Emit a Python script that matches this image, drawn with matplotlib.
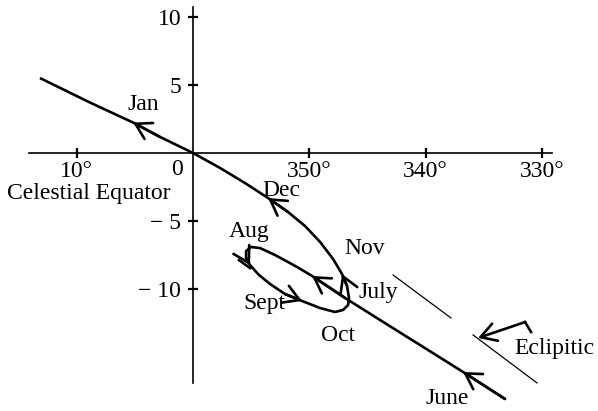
import matplotlib
matplotlib.use("Agg")
import matplotlib.pyplot as plt

plt.rcParams['font.family'] = ['Liberation Serif', 'DejaVu Serif']

# apparent path of the planet, right ascension offset from 0h (deg, east positive) and declination (deg)
path_ra = [-26.83, -23.22, -19.52, -16.08, -13.07, -10.23, -8.94, -7.05, -5.76, -4.99,
           -4.56, -4.56, -4.90, -5.67, -6.62, -7.91, -9.37, -10.92, -12.21, -12.90,
           -13.33, -13.41, -13.24, -12.81, -12.04, -10.92, -9.63, -8.17, -6.45, -4.47,
           -2.32, 0.0, 2.84, 5.16, 8.86, 13.16]
path_dec = [-18.09, -16.10, -14.12, -12.28, -10.66, -9.04, -8.38, -7.50, -6.99, -6.91,
            -7.21, -7.72, -8.24, -8.97, -9.63, -10.37, -10.88, -11.40, -11.69, -11.54,
            -11.18, -10.66, -9.78, -8.90, -7.79, -6.54, -5.37, -4.34, -3.31, -2.21,
            -1.10, 0.0, 1.18, 2.24, 3.71, 5.51]
# short overshoot at the western end of the loop
tail_ra = [-3.95, -4.90]
tail_dec = [-7.87, -8.46]

# indices on the path where direction arrows sit
arrow_idx = [1, 5, 12, 16, 23, 28, 33]

months = ['Jan', 'Dec', 'Nov', 'July', 'Aug', 'Sept', 'Oct', 'June']
month_ra = [4.30, -7.57, -14.79, -15.91, -4.82, -6.10, -12.47, -21.84]
month_dec = [3.55, -2.75, -7.05, -10.25, -5.80, -11.10, -13.40, -18.05]

# ecliptic, drawn as two thin segments either side of the label pointer
eclip1_ra = [-17.20, -22.18]
eclip1_dec = [-8.97, -12.13]
eclip2_ra = [-24.08, -29.58]
eclip2_dec = [-13.38, -16.91]
pointer_ra = [-29.06, -28.55, -24.51]
pointer_dec = [-13.16, -12.43, -13.60]

xticks = [10, -10, -20, -30]
xticklabels = ['10°', '350°', '340°', '330°']
yticks = [10, 5, -5, -10]
yticklabels = ['10', '5', '\u2212 5', '\u2212 10']

head = '->,head_length=1.1,head_width=0.65'

fig = plt.figure(figsize=(5.98, 4.11), dpi=100)
ax = fig.add_axes([0, 0, 1, 1])
ax.set_xlim(16.6, -34.82)
ax.set_ylim(-18.97, 11.25)

for s in ['top', 'right']:
    ax.spines[s].set_visible(False)
ax.spines['left'].set_position(('data', 0))
ax.spines['bottom'].set_position(('data', 0))
ax.spines['left'].set_bounds(-16.9, 10.7)
ax.spines['bottom'].set_bounds(-30.9, 14.1)
for s in ['left', 'bottom']:
    ax.spines[s].set_linewidth(1.2)

ax.set_xticks(xticks, xticklabels)
ax.set_yticks(yticks, yticklabels)
ax.tick_params(axis='both', direction='inout', length=7, width=1.6, labelsize=17)
ax.tick_params(axis='x', pad=2.5)
ax.tick_params(axis='y', pad=5)
ax.patch.set_visible(False)

ax.plot(path_ra, path_dec, color='black', lw=1.9, solid_capstyle='butt',
        solid_joinstyle='round')
ax.plot(tail_ra, tail_dec, color='black', lw=1.9)

for i in arrow_idx:
    ax.annotate('', xy=(path_ra[i], path_dec[i]), xytext=(path_ra[i - 1], path_dec[i - 1]),
                arrowprops=dict(arrowstyle=head, color='black', lw=1.9,
                                shrinkA=0, shrinkB=0, mutation_scale=10))

for name, x, y in zip(months, month_ra, month_dec):
    ax.text(x, y, name, fontsize=17, ha='center', va='center')

ax.text(1.38, -1.2, '0', fontsize=17, ha='center', va='center')
ax.text(8.94, -3.0, 'Celestial Equator', fontsize=17, ha='center', va='center')

ax.plot(eclip1_ra, eclip1_dec, color='black', lw=0.9)
ax.plot(eclip2_ra, eclip2_dec, color='black', lw=0.9)
ax.plot(pointer_ra[:2], pointer_dec[:2], color='black', lw=1.9)
ax.annotate('', xy=(pointer_ra[2], pointer_dec[2]), xytext=(pointer_ra[1], pointer_dec[1]),
            arrowprops=dict(arrowstyle=head, color='black', lw=1.9,
                            shrinkA=0, shrinkB=0, mutation_scale=10))
ax.text(-31.04, -14.40, 'Eclipitic', fontsize=17, ha='center', va='center')

fig.savefig('out.png', dpi=100)
